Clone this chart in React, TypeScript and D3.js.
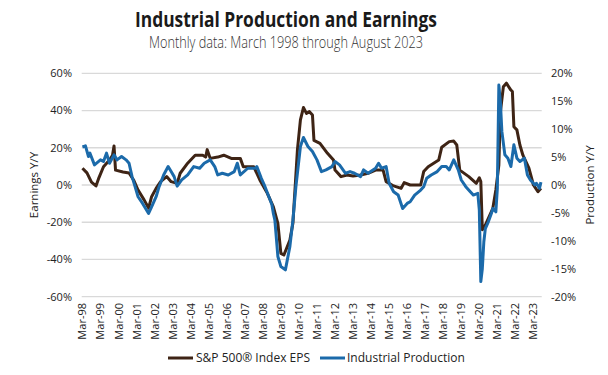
import React from "react";
import * as d3 from "d3";

const epsDates = ["1998-03","1998-06","1998-09","1998-12","1999-02","1999-05","1999-09","1999-11","1999-12","2000-01","2000-06","2000-10","2001-01","2001-04","2001-08","2001-11","2002-01","2002-04","2002-07","2002-11","2003-02","2003-06","2003-08","2004-01","2004-03","2004-06","2004-11","2005-01","2005-02","2005-04","2005-09","2006-01","2006-06","2006-12","2007-02","2007-09","2008-01","2008-06","2008-10","2009-01","2009-03","2009-05","2009-09","2009-11","2010-02","2010-04","2010-06","2010-08","2010-10","2010-12","2011-01","2011-05","2011-10","2012-02","2012-03","2012-07","2012-11","2013-03","2013-08","2014-01","2014-06","2014-11","2015-01","2015-06","2015-11","2016-01","2016-05","2016-12","2017-02","2017-05","2017-12","2018-02","2018-07","2018-10","2018-12","2019-02","2019-08","2020-01","2020-03","2020-04","2020-05","2020-07","2020-12","2021-02","2021-04","2021-05","2021-07","2021-09","2021-12","2022-01","2022-02","2022-04","2022-06","2022-08","2022-12","2023-03","2023-06","2023-08"];
const epsValues = [9.0,6.5,1.5,-0.5,4,9.8,13.4,16,21,8,7,6.5,2.7,-2.7,-8,-12.4,-6.3,-1.8,1.8,4.5,1.8,0.9,6.3,11.7,13.4,16,16,15,19,14.3,15,16,14.3,14.3,9.8,9.8,2.7,-4.5,-11.7,-20.6,-36.7,-37.6,-29.6,-20.6,18.8,35,41.6,38.5,39.4,37.6,24,22.4,17,13.4,8,4.5,5.4,4.8,5.4,6.3,8,8,1.8,-0.5,-1.8,1.3,0,0,7.2,9.8,13.4,20.3,23.3,23.6,21.5,8,4.5,0.9,3.9,1.8,-24,-21.5,-12.5,-2.7,10.7,39,52.8,54.7,51,50.2,31.3,29.6,21.5,16,9,0,-3.6,-1.8];

const ipDates = ["1998-03","1998-05","1998-07","1998-08","1998-11","1999-03","1999-05","1999-07","1999-09","1999-12","2000-02","2000-05","2000-08","2000-10","2000-12","2001-02","2001-04","2001-07","2001-09","2001-11","2002-01","2002-04","2002-06","2002-09","2002-12","2003-02","2003-04","2003-06","2003-09","2004-01","2004-05","2004-09","2004-12","2005-04","2005-07","2005-09","2005-12","2006-04","2006-08","2006-10","2006-12","2007-05","2007-10","2007-11","2008-02","2008-04","2008-07","2008-09","2008-10","2008-11","2009-01","2009-03","2009-06","2009-09","2009-11","2010-01","2010-04","2010-06","2010-09","2010-12","2011-03","2011-06","2011-09","2012-01","2012-03","2012-06","2012-10","2013-01","2013-04","2013-08","2013-10","2014-01","2014-06","2014-08","2014-10","2015-01","2015-03","2015-06","2015-09","2015-12","2016-03","2016-05","2016-08","2016-12","2017-02","2017-04","2017-07","2017-11","2018-02","2018-05","2018-07","2018-10","2019-01","2019-03","2019-06","2019-09","2019-11","2020-02","2020-03","2020-04","2020-05","2020-06","2020-07","2020-09","2020-11","2020-12","2021-02","2021-03","2021-04","2021-05","2021-06","2021-08","2021-10","2021-12","2022-02","2022-04","2022-06","2022-09","2022-11","2023-01","2023-04","2023-05","2023-07","2023-08"];
const ipValues = [6.8,7.0,5.1,5.7,3.6,4.5,4.2,5.7,3.9,5.4,4.5,5.1,4.5,3.9,1.5,-0.3,-2.1,-3.3,-4.2,-5.1,-3.9,-2.1,-0.3,1.8,3.3,2.4,1.5,-0.2,0.9,1.8,3.3,3.0,3.9,4.5,3.3,1.8,2.1,1.8,2.4,3.9,1.8,3.0,3.0,3.3,1.2,0,-2.1,-3.5,-5.1,-6.3,-12.8,-14.6,-15.2,-11,-6.3,-0.3,6.9,8.5,6.9,6.0,4.5,2.4,2.7,3.3,4.2,3.6,2.1,2.4,2.1,1.5,2.7,2.1,3.0,3.9,3.0,3.3,0.3,-1.2,-1.8,-4.2,-3.3,-3.0,-1.8,-0.9,-0.3,1.2,1.8,2.4,3.3,3.3,2.7,4.5,2.7,0.9,-0.3,-1.2,-1.8,-1.5,-4.5,-17.3,-15,-10.2,-7.8,-6.6,-5.1,-4.2,-4.8,-0.6,17.9,14.9,9.6,5.4,4.8,3.3,7.2,4.8,4.2,4.8,1.8,0.9,0,0.3,-0.6,0.5];

const leftTicks = [60, 40, 20, 0, -20, -40, -60];
const rightTicks = [20, 15, 10, 5, 0, -5, -10, -15, -20];
const xTickLabels = ["Mar-98","Mar-99","Mar-00","Mar-01","Mar-02","Mar-03","Mar-04","Mar-05","Mar-06","Mar-07","Mar-08","Mar-09","Mar-10","Mar-11","Mar-12","Mar-13","Mar-14","Mar-15","Mar-16","Mar-17","Mar-18","Mar-19","Mar-20","Mar-21","Mar-22","Mar-23"];

const seriesNames = ["S&P 500\u00AE Index EPS", "Industrial Production"];
const colors = ["#3e2415", "#1b6aaa"];

const monthIndex = (s: string) => {
  const [y, m] = s.split("-").map(Number);
  return (y - 1998) * 12 + (m - 3);
};

const FONT = "'Open Sans', 'Noto Sans', sans-serif";

export default function App() {
  const W = 608, H = 375;
  const left = 81.7, right = 541.7, top = 73.3, bottom = 296.7;
  const x = d3.scaleLinear().domain([-0.5, 305.5]).range([left, right]);
  const yL = d3.scaleLinear().domain([-60, 60]).range([bottom, top]);
  const yR = d3.scaleLinear().domain([-20, 20]).range([bottom, top]);

  const eps = epsDates.map((d, i) => [monthIndex(d), epsValues[i]] as [number, number]);
  const ip = ipDates.map((d, i) => [monthIndex(d), ipValues[i]] as [number, number]);

  const lineL = d3.line<[number, number]>().x(d => x(d[0])).y(d => yL(d[1]));
  const lineR = d3.line<[number, number]>().x(d => x(d[0])).y(d => yR(d[1]));

  return (
    <svg width={W} height={H} style={{ position: "absolute", left: 0, top: 0, background: "#fff" }} fontFamily={FONT}>
      <text x={286} y={27} textAnchor="middle" fontSize={21} fontWeight={700} fill="#1a1a1a" textLength={302} lengthAdjust="spacingAndGlyphs">Industrial Production and Earnings</text>
      <text x={286} y={48} textAnchor="middle" fontSize={15.5} fontWeight={300} fill="#333" textLength={274} lengthAdjust="spacingAndGlyphs">Monthly data: March 1998 through August 2023</text>

      {leftTicks.map(t => (
        <line key={"g" + t} x1={left} x2={right} y1={yL(t)} y2={yL(t)} stroke="#d9d9d9" strokeWidth={1.3} />
      ))}
      {leftTicks.map(t => (
        <text key={"l" + t} x={72} y={yL(t)} dy="0.35em" textAnchor="end" fontSize={11} fill="#222">{t + "%"}</text>
      ))}
      {rightTicks.map(t => (
        <text key={"r" + t} x={551} y={yR(t)} dy="0.35em" textAnchor="start" fontSize={11} fill="#222">{t + "%"}</text>
      ))}
      <text transform={`translate(38,${(top + bottom) / 2}) rotate(-90)`} textAnchor="middle" fontSize={11.5} fill="#222">Earnings Y/Y</text>
      <text transform={`translate(594,${(top + bottom) / 2}) rotate(-90)`} textAnchor="middle" fontSize={11.5} fill="#222">Production Y/Y</text>

      {xTickLabels.map((lab, i) => (
        <text key={lab} transform={`translate(${x(i * 12) + 4},303) rotate(-90)`} textAnchor="end" fontSize={11} fill="#222">{lab}</text>
      ))}

      <path d={lineL(eps) || ""} fill="none" stroke={colors[0]} strokeWidth={3} strokeLinejoin="round" />
      <path d={lineR(ip) || ""} fill="none" stroke={colors[1]} strokeWidth={3} strokeLinejoin="round" />

      <line x1={168} x2={193} y1={358} y2={358} stroke={colors[0]} strokeWidth={3} />
      <text x={196} y={358} dy="0.35em" fontSize={12} fill="#222">{seriesNames[0]}</text>
      <line x1={320} x2={345} y1={358} y2={358} stroke={colors[1]} strokeWidth={3} />
      <text x={347} y={358} dy="0.35em" fontSize={12} fill="#222">{seriesNames[1]}</text>
    </svg>
  );
}
